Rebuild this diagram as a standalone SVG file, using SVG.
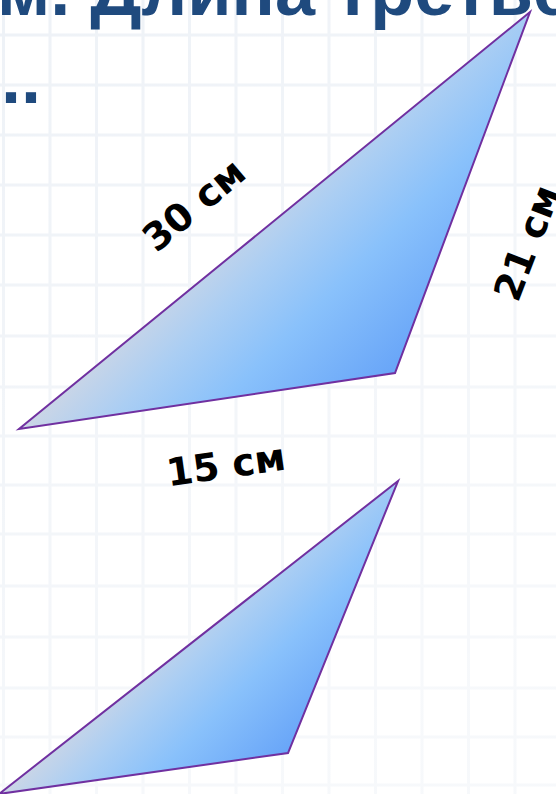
<svg xmlns="http://www.w3.org/2000/svg" width="556" height="794" viewBox="0 0 556 794">
<defs>
<style>
.grid line{stroke:#eef2f7;stroke-width:3}
.title{font-family:"Liberation Sans",Arial,sans-serif;font-weight:bold;font-size:72px;fill:#1f4a7e}
.lbl{font-family:"DejaVu Sans",Verdana,sans-serif;font-weight:bold;font-size:38px;fill:#000;text-anchor:middle}
.tri{stroke:#7030a0;stroke-width:2;stroke-linejoin:miter}
</style>
<linearGradient id="g1" gradientUnits="userSpaceOnUse" x1="19" y1="429" x2="179" y2="589">
<stop offset="0" stop-color="#ccd6e6"/>
<stop offset="0.25" stop-color="#abcef3"/>
<stop offset="0.55" stop-color="#89c1fb"/>
<stop offset="1" stop-color="#68a5f8"/>
</linearGradient>
<linearGradient id="g2" href="#g1" gradientUnits="userSpaceOnUse" x1="0" y1="793" x2="124" y2="917"/>
<linearGradient id="fade" x1="0" y1="0" x2="0.4" y2="1">
<stop offset="0" stop-color="#fff" stop-opacity="0"/>
<stop offset="1" stop-color="#fff" stop-opacity="0.5"/>
</linearGradient>
</defs>
<rect width="556" height="794" fill="#ffffff"/>
<g id="grid" class="grid">
<line x1="3.5" y1="0" x2="3.5" y2="794"/>
<line x1="50" y1="0" x2="50" y2="794"/>
<line x1="96.5" y1="0" x2="96.5" y2="794"/>
<line x1="143" y1="0" x2="143" y2="794"/>
<line x1="189.5" y1="0" x2="189.5" y2="794"/>
<line x1="236" y1="0" x2="236" y2="794"/>
<line x1="282.5" y1="0" x2="282.5" y2="794"/>
<line x1="329" y1="0" x2="329" y2="794"/>
<line x1="375.5" y1="0" x2="375.5" y2="794"/>
<line x1="422" y1="0" x2="422" y2="794"/>
<line x1="468.5" y1="0" x2="468.5" y2="794"/>
<line x1="515" y1="0" x2="515" y2="794"/>
<line x1="0" y1="35" x2="556" y2="35"/>
<line x1="0" y1="85" x2="556" y2="85"/>
<line x1="0" y1="135" x2="556" y2="135"/>
<line x1="0" y1="185" x2="556" y2="185"/>
<line x1="0" y1="235" x2="556" y2="235"/>
<line x1="0" y1="285" x2="556" y2="285"/>
<line x1="0" y1="336" x2="556" y2="336"/>
<line x1="0" y1="387" x2="556" y2="387"/>
<line x1="0" y1="436" x2="556" y2="436"/>
<line x1="0" y1="485" x2="556" y2="485"/>
<line x1="0" y1="534" x2="556" y2="534"/>
<line x1="0" y1="586" x2="556" y2="586"/>
<line x1="0" y1="637" x2="556" y2="637"/>
<line x1="0" y1="688" x2="556" y2="688"/>
<line x1="0" y1="737" x2="556" y2="737"/>
<line x1="0" y1="785" x2="556" y2="785"/>
</g>
<rect width="556" height="794" fill="url(#fade)"/>
<g id="title">
<text class="title" x="-3" y="15">м. Длина третьей</text>
<text class="title" x="1" y="103">..</text>
</g>
<g id="triangle1">
<polygon class="tri" fill="url(#g1)" points="530,12 19,429 395,373"/>
</g>
<g id="triangle2">
<polygon class="tri" fill="url(#g2)" points="398,481 -1,794 288,753"/>
</g>
<g id="labels">
<text class="lbl" transform="translate(194,205) rotate(-40)" y="13">30 см</text>
<text class="lbl" transform="translate(527,243) rotate(-69)" y="13">21 см</text>
<text class="lbl" transform="translate(226,465) rotate(-8)" y="13">15 см</text>
</g>
</svg>
